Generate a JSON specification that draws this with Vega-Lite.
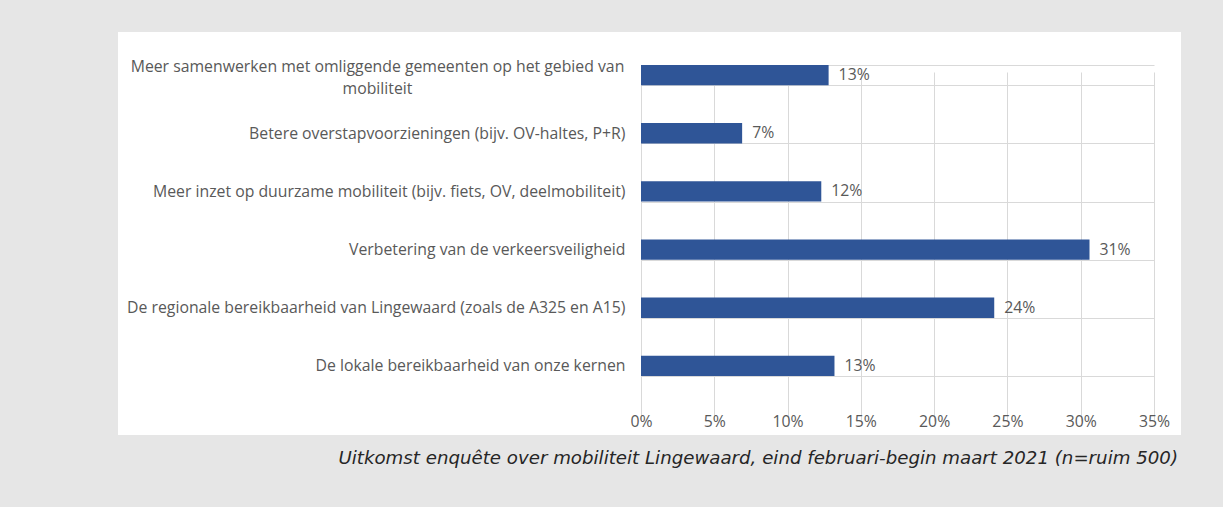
{
  "$schema": "https://vega.github.io/schema/vega-lite/v6.json",
  "autosize": "none",
  "width": 1063,
  "height": 403,
  "padding": {"left": 118, "top": 32, "right": 42, "bottom": 72},
  "background": "#e6e6e6",
  "view": {"fill": "white", "stroke": null},
  "title": {
    "text": "Uitkomst enquête over mobiliteit Lingewaard, eind februari-begin maart 2021 (n=ruim 500)",
    "orient": "bottom",
    "anchor": "end",
    "font": "DejaVu Sans",
    "fontSize": 18.2,
    "fontStyle": "italic",
    "fontWeight": "normal",
    "color": "#262626",
    "baseline": "top",
    "offset": 15,
    "dx": -3
  },
  "data": {
    "values": [
      {"categorie": "Meer samenwerken met omliggende gemeenten op het gebied van mobiliteit", "aandeel": 0.128},
      {"categorie": "Betere overstapvoorzieningen (bijv. OV-haltes, P+R)", "aandeel": 0.069},
      {"categorie": "Meer inzet op duurzame mobiliteit (bijv. fiets, OV, deelmobiliteit)", "aandeel": 0.123},
      {"categorie": "Verbetering van de verkeersveiligheid", "aandeel": 0.306},
      {"categorie": "De regionale bereikbaarheid van Lingewaard (zoals de A325 en A15)", "aandeel": 0.241},
      {"categorie": "De lokale bereikbaarheid van onze kernen", "aandeel": 0.132}
    ]
  },
  "encoding": {
    "y": {
      "field": "categorie",
      "type": "nominal",
      "sort": null,
      "scale": {"range": [14, 363], "paddingInner": 0.65, "paddingOuter": 0.325},
      "axis": {
        "title": null,
        "orient": "left",
        "offset": -523,
        "domain": false,
        "ticks": false,
        "grid": true,
        "gridColor": "#d9d9d9",
        "gridWidth": 1,
        "tickBand": "extent",
        "labelFont": "Open Sans",
        "labelFontSize": 15.8,
        "labelColor": "#595959",
        "labelLimit": 0,
        "labelLineHeight": 22,
        "labelBaseline": "middle",
        "labelAlign": {"condition": {"test": "indexof(datum.label, 'Meer samenwerken') == 0", "value": "center"}, "value": "right"},
        "labelPadding": {"condition": {"test": "indexof(datum.label, 'Meer samenwerken') == 0", "value": 264}, "value": 16},
        "labelOffset": {"condition": {"test": "indexof(datum.label, 'Meer samenwerken') == 0", "value": -9}, "value": 0},
        "labelExpr": "datum.label == 'Meer samenwerken met omliggende gemeenten op het gebied van mobiliteit' ? ['Meer samenwerken met omliggende gemeenten op het gebied van', 'mobiliteit'] : datum.label"
      }
    },
    "x": {
      "field": "aandeel",
      "type": "quantitative",
      "scale": {"domain": [0, 0.35], "range": [523, 1036], "nice": false},
      "axis": {
        "title": null,
        "orient": "bottom",
        "offset": -40,
        "values": [0, 0.05, 0.1, 0.15, 0.2, 0.25, 0.3, 0.35],
        "format": ".0%",
        "domain": false,
        "ticks": false,
        "grid": true,
        "gridColor": "#d9d9d9",
        "gridWidth": 1,
        "labelFont": "Open Sans",
        "labelFontSize": 15.8,
        "labelColor": "#595959",
        "labelPadding": 19,
        "labelFlush": false,
        "labelOverlap": false
      }
    }
  },
  "layer": [
    {"mark": {"type": "bar", "color": "#2f5597"}},
    {
      "mark": {"type": "text", "align": "left", "baseline": "middle", "dx": 10, "font": "Open Sans", "fontSize": 15.8, "color": "#595959"},
      "encoding": {"text": {"field": "aandeel", "type": "quantitative", "format": ".0%"}}
    }
  ]
}
